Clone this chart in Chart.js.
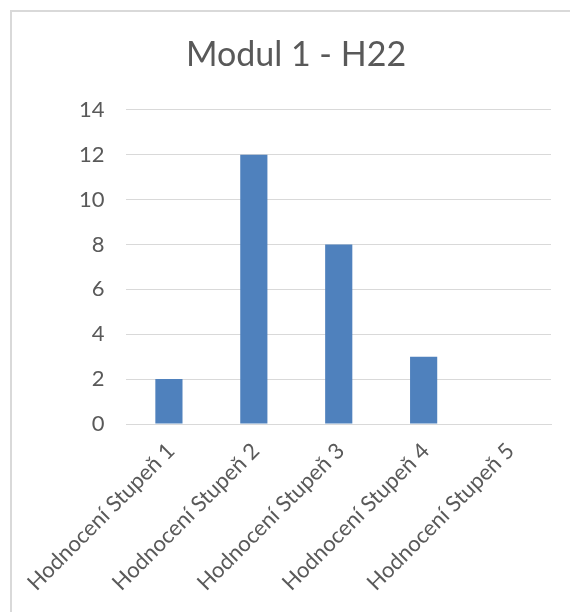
<!DOCTYPE html>
<html>
<head>
<meta charset="utf-8">
<script src="https://cdn.jsdelivr.net/npm/chart.js@4.4.1/dist/chart.umd.min.js"></script>
<style>
    html, body { margin: 0; padding: 0; background: #fff; overflow: hidden; }
    #frame {
        position: absolute; left: 10px; top: 10px;
        width: 620px; height: 660px;
        border: 2px solid #d9d9d9;
    }
    #wrap { position: absolute; left: 12px; top: 12px; width: 568px; height: 600px; }
</style>
</head>
<body>
<div id="frame"></div>
<div id="wrap"><canvas id="chart"></canvas></div>
<script>
const categories = [
    "Hodnocení Stupeň 1",
    "Hodnocení Stupeň 2",
    "Hodnocení Stupeň 3",
    "Hodnocení Stupeň 4",
    "Hodnocení Stupeň 5"
];
const counts = [2, 12, 8, 3, 0];
const titleText = "Modul 1 - H22";
const yMax = 14;
const yStep = 2;

const textColor = "#595959";
const gridColor = "#d9d9d9";
const fontFamily = "Lato, 'Open Sans', sans-serif";

new Chart(document.getElementById("chart"), {
    type: "bar",
    data: {
        labels: categories,
        datasets: [{
            data: counts,
            backgroundColor: "#4f81bd",
            barPercentage: 0.32,
            categoryPercentage: 1
        }]
    },
    options: {
        responsive: true,
        maintainAspectRatio: false,
        animation: false,
        layout: { padding: 0 },
        plugins: {
            legend: { display: false },
            tooltip: { enabled: false },
            title: {
                display: true,
                text: titleText,
                color: textColor,
                font: { family: fontFamily, size: 34, weight: "normal" },
                padding: { top: 23, bottom: 34 }
            }
        },
        scales: {
            x: {
                grid: { display: false },
                border: { color: gridColor, width: 1 },
                ticks: {
                    color: textColor,
                    font: { family: fontFamily, size: 22 },
                    minRotation: 45,
                    maxRotation: 45,
                    padding: 6,
                    labelOffset: 2
                },
                afterFit: s => { s.height = 188; }
            },
            y: {
                min: 0,
                max: yMax,
                ticks: {
                    stepSize: yStep,
                    color: textColor,
                    font: { family: fontFamily, size: 22 },
                    padding: 22
                },
                grid: { color: gridColor, lineWidth: 1, drawTicks: false },
                border: { display: false },
                afterFit: s => { s.width = 114; }
            },
            yRight: {
                position: "right",
                display: true,
                ticks: { display: false },
                grid: { drawOnChartArea: false, drawTicks: false },
                border: { display: false },
                afterFit: s => { s.width = 29; }
            }
        }
    }
});
</script>
</body>
</html>
